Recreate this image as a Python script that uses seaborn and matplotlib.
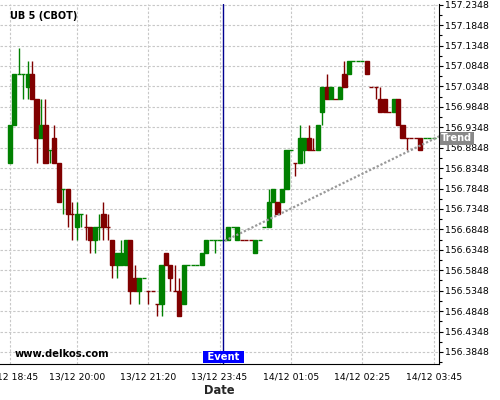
import numpy as np
import matplotlib
matplotlib.use("Agg")
import matplotlib.pyplot as plt
import matplotlib.transforms as mtransforms
from matplotlib.ticker import FixedLocator, AutoMinorLocator
import seaborn as sns

# --- data (5 minute candles, x = candle number) ---
symbol = "UB 5 (CBOT)"
tick_index = [0, 15, 31, 47, 63, 79, 95]
tick_labels = ["13/12 18:45", "13/12 20:00", "13/12 21:20", "13/12 23:45",
               "14/12 01:05", "14/12 02:25", "14/12 03:45"]
price_ticks = [156.3848, 156.4348, 156.4848, 156.5348, 156.5848, 156.6348,
               156.6848, 156.7348, 156.7848, 156.8348, 156.8848, 156.9348,
               156.9848, 157.0348, 157.0848, 157.1348, 157.1848, 157.2348]

opens = [156.847, 156.940, 157.065, 157.065, 157.034, 157.065, 157.003, 156.909, 156.940, 156.878,
         156.909, 156.847, 156.784, 156.784, 156.722, 156.690, 156.722, 156.690, 156.690, 156.659,
         156.690, 156.722, 156.690, 156.659, 156.597, 156.597, 156.597, 156.659, 156.565, 156.534,
         156.565, 156.534, 156.534, 156.503, 156.503, 156.628, 156.597, 156.534, 156.534, 156.503,
         156.597, 156.597, 156.597, 156.597, 156.628, 156.659, 156.659, 156.659, 156.659, 156.659,
         156.690, 156.659, 156.659, 156.659, 156.659, 156.628, 156.659, 156.690, 156.690, 156.753,
         156.753, 156.753, 156.784, 156.878, 156.847, 156.847, 156.878, 156.909, 156.878, 156.878,
         156.972, 157.034, 157.003, 157.003, 157.003, 157.065, 157.065, 157.097, 157.097, 157.097,
         157.097, 157.034, 157.034, 157.003, 157.003, 156.972, 156.972, 157.003, 156.940, 156.909,
         156.909, 156.909, 156.909, 156.909, 156.909, 156.909]
highs = [156.940, 157.065, 157.128, 157.065, 157.097, 157.097, 157.003, 157.003, 157.003, 156.878,
         156.940, 156.847, 156.784, 156.784, 156.753, 156.753, 156.722, 156.722, 156.690, 156.690,
         156.722, 156.753, 156.722, 156.659, 156.628, 156.659, 156.659, 156.659, 156.597, 156.565,
         156.565, 156.534, 156.534, 156.503, 156.597, 156.628, 156.597, 156.597, 156.565, 156.597,
         156.597, 156.597, 156.597, 156.628, 156.659, 156.659, 156.659, 156.659, 156.659, 156.690,
         156.690, 156.690, 156.659, 156.659, 156.659, 156.659, 156.659, 156.690, 156.784, 156.784,
         156.753, 156.784, 156.878, 156.878, 156.847, 156.940, 156.909, 156.940, 156.909, 156.940,
         157.034, 157.065, 157.034, 157.003, 157.034, 157.097, 157.097, 157.097, 157.097, 157.097,
         157.097, 157.034, 157.034, 157.034, 157.003, 156.972, 157.003, 157.003, 156.940, 156.909,
         156.909, 156.909, 156.909, 156.909, 156.909, 156.909]
lows = [156.847, 156.940, 157.065, 157.003, 157.003, 157.003, 156.847, 156.909, 156.847, 156.847,
        156.847, 156.753, 156.722, 156.690, 156.659, 156.659, 156.690, 156.659, 156.628, 156.628,
        156.659, 156.659, 156.659, 156.565, 156.565, 156.597, 156.597, 156.503, 156.534, 156.503,
        156.565, 156.503, 156.534, 156.472, 156.472, 156.597, 156.534, 156.534, 156.472, 156.503,
        156.597, 156.597, 156.597, 156.597, 156.628, 156.659, 156.628, 156.659, 156.659, 156.659,
        156.690, 156.659, 156.659, 156.659, 156.659, 156.628, 156.659, 156.690, 156.690, 156.753,
        156.722, 156.753, 156.784, 156.878, 156.815, 156.847, 156.847, 156.878, 156.878, 156.878,
        156.940, 157.003, 157.003, 157.003, 157.003, 157.034, 157.065, 157.097, 157.097, 157.097,
        157.065, 157.034, 157.003, 156.972, 156.972, 156.972, 156.972, 156.940, 156.909, 156.878,
        156.909, 156.909, 156.878, 156.909, 156.909, 156.909]
closes = [156.940, 157.065, 157.065, 157.065, 157.065, 157.003, 156.909, 156.940, 156.847, 156.878,
          156.847, 156.753, 156.784, 156.722, 156.722, 156.722, 156.722, 156.690, 156.659, 156.690,
          156.690, 156.690, 156.690, 156.597, 156.628, 156.628, 156.659, 156.534, 156.534, 156.565,
          156.565, 156.534, 156.534, 156.503, 156.597, 156.597, 156.565, 156.534, 156.472, 156.597,
          156.597, 156.597, 156.597, 156.628, 156.659, 156.659, 156.659, 156.659, 156.659, 156.690,
          156.690, 156.690, 156.659, 156.659, 156.659, 156.659, 156.659, 156.690, 156.753, 156.784,
          156.722, 156.784, 156.878, 156.878, 156.847, 156.909, 156.909, 156.878, 156.878, 156.940,
          157.034, 157.003, 157.034, 157.003, 157.034, 157.034, 157.097, 157.097, 157.097, 157.097,
          157.065, 157.034, 157.034, 156.972, 156.972, 156.972, 157.003, 156.940, 156.909, 156.909,
          156.909, 156.909, 156.878, 156.909, 156.909, 156.909]
# 1 = up candle (green), 0 = down candle (red); also sets the colour of dojis
bullish = [1, 1, 1, 1, 1, 0, 0, 1, 0, 1, 0, 0, 1, 0, 0, 1, 1, 0, 0, 1,
           1, 0, 0, 0, 1, 1, 1, 0, 0, 1, 1, 0, 0, 0, 1, 0, 0, 0, 0, 1,
           1, 1, 1, 1, 1, 1, 1, 1, 1, 1, 1, 1, 0, 0, 0, 1, 1, 1, 1, 1,
           0, 1, 1, 1, 0, 1, 1, 0, 0, 1, 1, 0, 1, 0, 1, 0, 1, 1, 1, 1,
           0, 0, 0, 0, 0, 0, 1, 0, 0, 0, 0, 0, 0, 1, 1, 1]

event_index = 47.85
trend_index = [48.2, 96.3]
trend_price = [156.657, 156.913]
trend_label_price = 156.908

# --- style ---
sns.set_style("white", rc={"axes.edgecolor": "black", "text.color": "black",
                           "xtick.color": "black", "ytick.color": "black",
                           "axes.linewidth": 1.0})
plt.rcParams["font.family"] = ["DejaVu Sans"]

fig = plt.figure(figsize=(5, 4), dpi=100)
ax = fig.add_axes([0.0, 0.09, 0.8786, 0.9])

green, red = "#008000", "#800000"
x = np.arange(len(opens))
cols = [green if b else red for b in bullish]
body = np.array(closes) - np.array(opens)

ax.vlines(x, lows, highs, colors=cols, linewidth=1.0, zorder=3)
ax.bar(x, body, bottom=opens, width=0.92, color=cols, edgecolor=cols,
       linewidth=1.0, zorder=4)

# trend line (dotted grey)
sns.lineplot(x=trend_index, y=trend_price, ax=ax, color="#999999",
             linewidth=1.6, linestyle=(0, (1.0, 0.9)), zorder=5)

# event marker
ax.axvline(event_index, color="#000090", linewidth=1.0, zorder=6)
trans = mtransforms.blended_transform_factory(ax.transData, ax.transAxes)
ax.text(event_index, 0.0195, " Event ", transform=trans, ha="center", va="center",
        color="white", fontsize=7.2, fontweight="bold", zorder=7,
        bbox=dict(boxstyle="square,pad=0.12", fc="#0000ff", ec="none"))

# trend label sitting on the right axis
trans_y = mtransforms.blended_transform_factory(ax.transAxes, ax.transData)
ax.text(1.004, trend_label_price, "Trend", transform=trans_y, ha="left", va="center",
        color="white", fontsize=7.0, fontweight="bold", zorder=7, clip_on=False,
        bbox=dict(boxstyle="square,pad=0.15", fc="#888888", ec="none"))

# axes
ax.set_xlim(-2.19, 96.25)
ax.set_ylim(156.3554, 157.2365)
ax.xaxis.set_major_locator(FixedLocator(tick_index))
ax.set_xticklabels(tick_labels)
minor = []
for a, b in zip(tick_index[:-1], tick_index[1:]):
    minor += [a + (b - a) * k / 4 for k in (1, 2, 3)]
ax.xaxis.set_minor_locator(FixedLocator(minor))
ax.set_yticks(price_ticks)
ax.set_yticklabels([f"{p:.4f}" for p in price_ticks])
ax.yaxis.set_minor_locator(AutoMinorLocator(2))
ax.yaxis.tick_right()
ax.tick_params(axis="both", which="major", labelsize=6.7, length=3, width=0.8,
               direction="out")
ax.tick_params(axis="both", which="minor", length=2, width=0.8, direction="out")
ax.tick_params(axis="x", which="major", pad=3)
ax.tick_params(axis="y", which="major", pad=1.2)

ax.grid(True, which="major", color="#c8c8c8", linestyle=(0, (2.2, 1.6)),
        linewidth=0.8, zorder=0)
ax.set_axisbelow(True)
for side in ("left", "top"):
    ax.spines[side].set_visible(False)

ax.set_xlabel("Date", fontsize=8.3, fontweight="bold", labelpad=2)
ax.set_ylabel("")

fig.text(0.021, 0.96, symbol, fontsize=7.0, fontweight="bold", va="center")
fig.text(0.03, 0.115, "www.delkos.com", fontsize=7.2, fontweight="bold", va="center")

fig.savefig("out.png", dpi=100)
